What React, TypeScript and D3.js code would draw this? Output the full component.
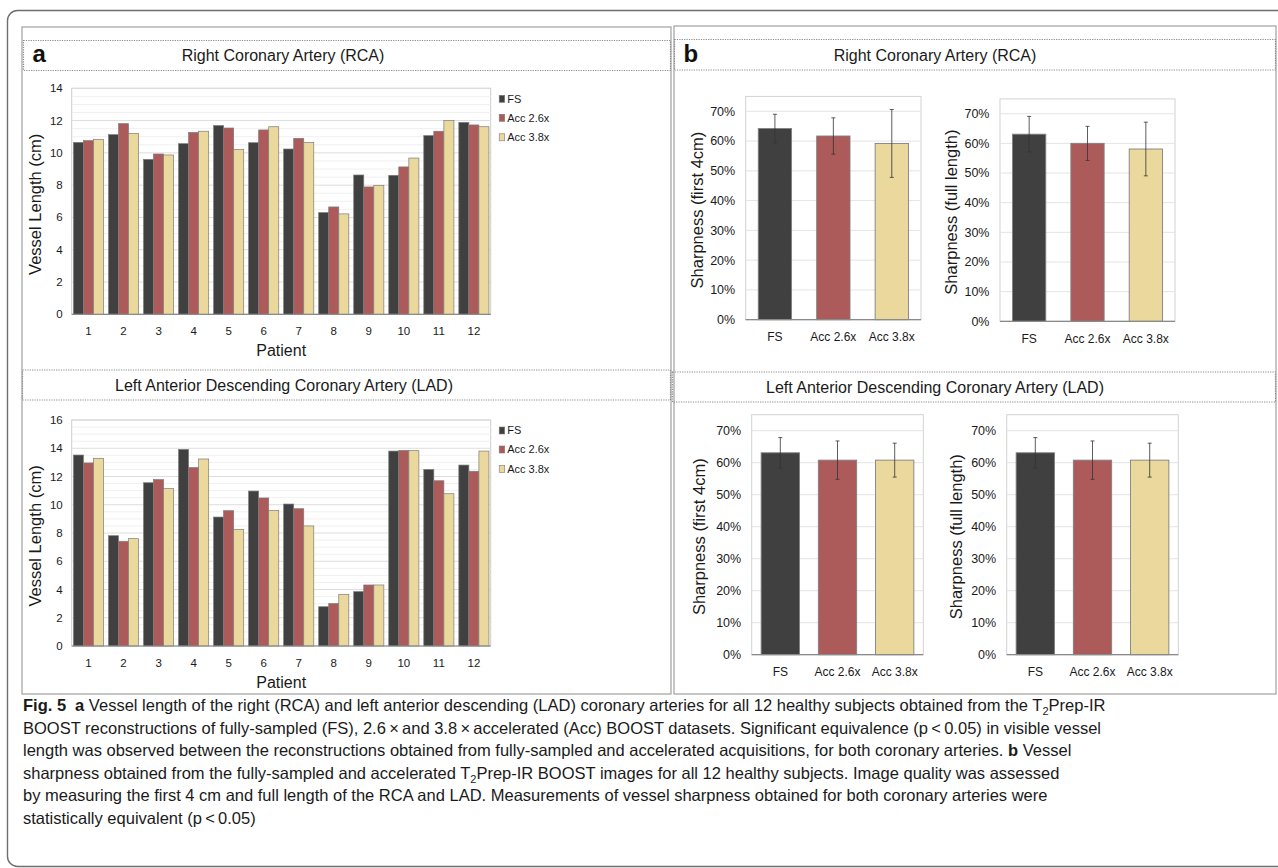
import React from "react";
import * as d3 from "d3";

// ---------- DATA ----------
const patients = ["1", "2", "3", "4", "5", "6", "7", "8", "9", "10", "11", "12"];
const seriesNames = ["FS", "Acc 2.6x", "Acc 3.8x"];

// Panel a – vessel length (cm)
const rcaLengthFS = [10.65, 11.13, 9.6, 10.57, 11.69, 10.63, 10.24, 6.3, 8.63, 8.61, 11.07, 11.89];
const rcaLengthAcc26 = [10.76, 11.81, 9.93, 11.27, 11.54, 11.42, 10.9, 6.65, 7.89, 9.13, 11.34, 11.73];
const rcaLengthAcc38 = [10.84, 11.21, 9.87, 11.34, 10.22, 11.62, 10.65, 6.22, 7.99, 9.68, 12.0, 11.62];

const ladLengthFS = [13.52, 7.81, 11.56, 13.92, 9.13, 10.97, 10.05, 2.78, 3.85, 13.8, 12.5, 12.81];
const ladLengthAcc26 = [12.96, 7.41, 11.78, 12.63, 9.58, 10.48, 9.72, 3.0, 4.32, 13.85, 11.7, 12.37];
const ladLengthAcc38 = [13.29, 7.6, 11.14, 13.24, 8.26, 9.6, 8.5, 3.66, 4.32, 13.83, 10.78, 13.8];

const rcaLengthTicks = [0, 2, 4, 6, 8, 10, 12, 14];
const ladLengthTicks = [0, 2, 4, 6, 8, 10, 12, 14, 16];

// Panel b – sharpness (%), mean and error (±)
const rcaFirst4Mean = [64.2, 61.7, 59.2];
const rcaFirst4Err = [4.8, 6.1, 11.4];
const rcaFullMean = [63.1, 60.0, 58.1];
const rcaFullErr = [6.0, 5.75, 9.05];
const ladFirst4Mean = [63.1, 60.8, 60.8];
const ladFirst4Err = [4.75, 6.0, 5.3];
const ladFullMean = [63.1, 60.8, 60.8];
const ladFullErr = [4.75, 6.0, 5.3];

const sharpnessTicks = [0, 10, 20, 30, 40, 50, 60, 70];

// ---------- STYLE ----------
const FONT = "'Liberation Sans', Arial, Helvetica, sans-serif";
const COLORS = ["#404040", "#ad5a5a", "#ead89c"];
const TEXT = "#1a1a1a";

type LengthProps = {
  left: number;
  right: number;
  top: number;
  bottom: number;
  yMax: number;
  ticks: number[];
  values: number[][];
  yTitleX: number;
};

function LengthChart({ left, right, top, bottom, yMax, ticks, values, yTitleX }: LengthProps) {
  const x0 = d3.scaleBand<string>().domain(patients).range([left, right]).paddingInner(0.14).paddingOuter(0.05);
  const x1 = d3.scaleBand<string>().domain(seriesNames).range([0, x0.bandwidth()]).padding(0);
  const y = d3.scaleLinear().domain([0, yMax]).range([bottom, top]);
  const minor = d3.range(0.5, yMax, 0.5).filter((v) => v % 2 !== 0);
  const legendX = right + 8.5;
  const legendY = [top + 10.5, top + 29.5, top + 49];
  return (
    <g>
      <rect x={left} y={top} width={right - left} height={bottom - top} fill="#fff" stroke="#cdcdcd" strokeWidth={1} />
      {minor.map((v) => (
        <line key={"m" + v} x1={left} x2={right} y1={y(v)} y2={y(v)} stroke="#f0f0f0" strokeWidth={1} />
      ))}
      {ticks.map((v) => (
        <line key={"g" + v} x1={left} x2={right} y1={y(v)} y2={y(v)} stroke="#dddddd" strokeWidth={1} />
      ))}
      {patients.map((p, i) => (
        <g key={p} transform={`translate(${x0(p)},0)`}>
          {seriesNames.map((s, j) => (
            <rect
              key={s}
              x={x1(s)}
              y={y(values[j][i])}
              width={x1.bandwidth()}
              height={bottom - y(values[j][i])}
              fill={COLORS[j]}
              stroke="#7c7c7c"
              strokeWidth={0.7}
            />
          ))}
        </g>
      ))}
      <line x1={left} x2={right} y1={bottom} y2={bottom} stroke="#8a8a8a" strokeWidth={1.2} />
      {ticks.map((v) => (
        <text key={"t" + v} x={left - 9} y={y(v)} dy="0.35em" textAnchor="end" fontSize={11.5} fill={TEXT}>
          {v}
        </text>
      ))}
      {patients.map((p) => (
        <text key={"x" + p} x={(x0(p) as number) + x0.bandwidth() / 2} y={bottom + 20.5} textAnchor="middle" fontSize={11.5} fill={TEXT}>
          {p}
        </text>
      ))}
      <text x={(left + right) / 2} y={bottom + 41.5} textAnchor="middle" fontSize={16} fill={TEXT}>
        Patient
      </text>
      <text
        transform={`translate(${yTitleX},${(top + bottom) / 2 + 3}) rotate(-90)`}
        textAnchor="middle"
        dy="0.35em"
        fontSize={16.5}
        fill={TEXT}
      >
        Vessel Length (cm)
      </text>
      {seriesNames.map((s, j) => (
        <g key={"l" + s}>
          <rect x={legendX} y={legendY[j] - 3.5} width={5.5} height={7} fill={COLORS[j]} stroke="#7c7c7c" strokeWidth={0.6} />
          <text x={legendX + 8} y={legendY[j]} dy="0.35em" fontSize={11} fill={TEXT}>
            {s}
          </text>
        </g>
      ))}
    </g>
  );
}

type SharpProps = {
  left: number;
  right: number;
  top: number;
  bottom: number;
  mean: number[];
  err: number[];
  pad: number;
  yTitle: string;
  yTitleX: number;
};

function SharpnessChart({ left, right, top, bottom, mean, err, pad, yTitle, yTitleX }: SharpProps) {
  const x = d3.scaleBand<string>().domain(seriesNames).range([left, right]).paddingInner(pad).paddingOuter(pad / 2);
  const y = d3.scaleLinear().domain([0, 75]).range([bottom, top]);
  return (
    <g>
      <rect x={left} y={top} width={right - left} height={bottom - top} fill="#fff" stroke="#d2d2d2" strokeWidth={1} />
      {sharpnessTicks.map((v) => (
        <line key={"g" + v} x1={left} x2={right} y1={y(v)} y2={y(v)} stroke="#e4e4e4" strokeWidth={1} />
      ))}
      {seriesNames.map((s, j) => {
        const cx = (x(s) as number) + x.bandwidth() / 2;
        return (
          <g key={s}>
            <rect
              x={x(s)}
              y={y(mean[j])}
              width={x.bandwidth()}
              height={bottom - y(mean[j])}
              fill={COLORS[j]}
              stroke="#808080"
              strokeWidth={0.9}
            />
            <line x1={cx} x2={cx} y1={y(mean[j] + err[j])} y2={y(mean[j] - err[j])} stroke="#333" strokeWidth={0.8} />
            <line x1={cx - 2} x2={cx + 2} y1={y(mean[j] + err[j])} y2={y(mean[j] + err[j])} stroke="#333" strokeWidth={0.8} />
            <line x1={cx - 2} x2={cx + 2} y1={y(mean[j] - err[j])} y2={y(mean[j] - err[j])} stroke="#333" strokeWidth={0.8} />
            <text x={cx} y={bottom + 21.5} textAnchor="middle" fontSize={12} fill={TEXT}>
              {s}
            </text>
          </g>
        );
      })}
      <line x1={left} x2={right} y1={bottom} y2={bottom} stroke="#8a8a8a" strokeWidth={1.2} />
      {sharpnessTicks.map((v) => (
        <text key={"t" + v} x={left - 10.5} y={y(v)} dy="0.35em" textAnchor="end" fontSize={12.5} fill={TEXT}>
          {v + "%"}
        </text>
      ))}
      <text
        transform={`translate(${yTitleX},${(top + bottom) / 2 + 2}) rotate(-90)`}
        textAnchor="middle"
        dy="0.35em"
        fontSize={16.5}
        fill={TEXT}
      >
        {yTitle}
      </text>
    </g>
  );
}

function Banner({ x, y, w, h, label, cx, title }: { x: number; y: number; w: number; h: number; label?: string; cx: number; title: string }) {
  return (
    <g>
      <rect x={x} y={y} width={w} height={h} fill="none" stroke="#8a8a8a" strokeWidth={1.2} strokeDasharray="1.2 1.2" />
      {label && (
        <text x={x + 9} y={y + h - 8.5} fontSize={24} fontWeight="bold" fill="#111">
          {label}
        </text>
      )}
      <text x={cx} y={y + h / 2} dy="0.36em" textAnchor="middle" fontSize={16} fill={TEXT}>
        {title}
      </text>
    </g>
  );
}

const THIN = "\u2009";

export default function App() {
  const capX = 23;
  const capY0 = 711;
  const capStep = 22.6;
  return (
    <svg
      width={1278}
      height={868}
      viewBox="0 0 1278 868"
      style={{ position: "absolute", left: 0, top: 0, background: "#fff" }}
      fontFamily={FONT}
    >
      <rect x={0} y={0} width={1278} height={868} fill="#fff" />
      {/* outer frame */}
      <rect x={7.5} y={10.5} width={1300} height={856} rx={10} fill="none" stroke="#6e6e6e" strokeWidth={1.4} />
      {/* panel boxes */}
      <rect x={22} y={27} width={649} height={667} fill="none" stroke="#a0a0a0" strokeWidth={1.2} />
      <rect x={674} y={26} width={602} height={668} fill="none" stroke="#a0a0a0" strokeWidth={1.2} />

      {/* banners */}
      <Banner x={23.5} y={40.5} w={647} h={30} label="a" cx={283} title="Right Coronary Artery (RCA)" />
      <Banner x={22.5} y={370} w={648} h={30} cx={284} title="Left Anterior Descending Coronary Artery (LAD)" />
      <Banner x={674.5} y={39.5} w={601} h={30.5} label="b" cx={935} title="Right Coronary Artery (RCA)" />
      <Banner x={672.5} y={372} w={603} h={30} cx={935} title="Left Anterior Descending Coronary Artery (LAD)" />

      {/* panel a */}
      <LengthChart
        left={71.7}
        right={490.7}
        top={88.3}
        bottom={314.3}
        yMax={14}
        ticks={rcaLengthTicks}
        values={[rcaLengthFS, rcaLengthAcc26, rcaLengthAcc38]}
        yTitleX={35}
      />
      <LengthChart
        left={71.7}
        right={490.7}
        top={420}
        bottom={646}
        yMax={16}
        ticks={ladLengthTicks}
        values={[ladLengthFS, ladLengthAcc26, ladLengthAcc38]}
        yTitleX={35}
      />

      {/* panel b */}
      <SharpnessChart left={745.7} right={921} top={96.4} bottom={319.7} mean={rcaFirst4Mean} err={rcaFirst4Err} pad={0.43} yTitle="Sharpness (first 4cm)" yTitleX={697.5} />
      <SharpnessChart left={1000} right={1175} top={98.9} bottom={321.3} mean={rcaFullMean} err={rcaFullErr} pad={0.43} yTitle="Sharpness (full length)" yTitleX={951} />
      <SharpnessChart left={751.7} right={923.3} top={414.7} bottom={654.7} mean={ladFirst4Mean} err={ladFirst4Err} pad={0.33} yTitle="Sharpness (first 4cm)" yTitleX={699.5} />
      <SharpnessChart left={1006.7} right={1178.3} top={414.7} bottom={654.7} mean={ladFullMean} err={ladFullErr} pad={0.33} yTitle="Sharpness (full length)" yTitleX={956} />

      {/* caption */}
      <g fontSize={16.5} fill="#1a1a1a">
        <text x={capX} y={capY0}>
          <tspan fontWeight="bold">Fig. 5</tspan>
          <tspan fontWeight="bold" dx={9}>a</tspan>
          <tspan>{" Vessel length of the right (RCA) and left anterior descending (LAD) coronary arteries for all 12 healthy subjects obtained from the T"}</tspan>
          <tspan fontSize={11} dy={4}>2</tspan>
          <tspan dy={-4}>Prep-IR</tspan>
        </text>
        <text x={capX} y={capY0 + capStep}>
          {`BOOST reconstructions of fully-sampled (FS), 2.6${THIN}×${THIN}and 3.8${THIN}×${THIN}accelerated (Acc) BOOST datasets. Significant equivalence (p${THIN}<${THIN}0.05) in visible vessel`}
        </text>
        <text x={capX} y={capY0 + capStep * 2}>
          <tspan>length was observed between the reconstructions obtained from fully-sampled and accelerated acquisitions, for both coronary arteries. </tspan>
          <tspan fontWeight="bold">b</tspan>
          <tspan> Vessel</tspan>
        </text>
        <text x={capX} y={capY0 + capStep * 3}>
          <tspan>sharpness obtained from the fully-sampled and accelerated T</tspan>
          <tspan fontSize={11} dy={4}>2</tspan>
          <tspan dy={-4}>Prep-IR BOOST images for all 12 healthy subjects. Image quality was assessed</tspan>
        </text>
        <text x={capX} y={capY0 + capStep * 4}>
          by measuring the first 4 cm and full length of the RCA and LAD. Measurements of vessel sharpness obtained for both coronary arteries were
        </text>
        <text x={capX} y={capY0 + capStep * 5}>
          {`statistically equivalent (p${THIN}<${THIN}0.05)`}
        </text>
      </g>
    </svg>
  );
}
